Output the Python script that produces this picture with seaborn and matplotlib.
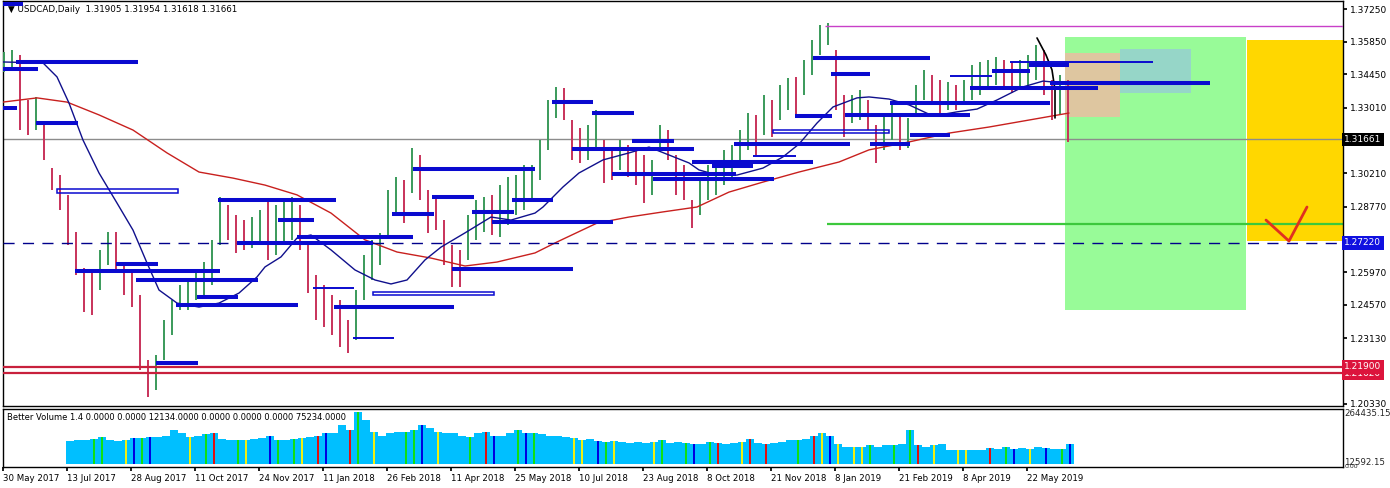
import numpy as np
import matplotlib
matplotlib.use("Agg")
import matplotlib.pyplot as plt
from matplotlib.patches import Rectangle
import seaborn as sns

# daily bars, one sampled bar every 4 trading days (high / low)
highs = [1.3541, 1.3549, 1.3528, 1.3335, 1.3348, 1.3236, 1.3043, 1.3013, 1.2928, 1.2769,
         1.2615, 1.2606, 1.2692, 1.2769, 1.2769, 1.2640, 1.2606, 1.2499, 1.2220, 1.2241,
         1.2391, 1.2477, 1.2542, 1.2554, 1.2606, 1.2640, 1.2735, 1.2919, 1.2885, 1.2842,
         1.2820, 1.2833, 1.2863, 1.2906, 1.2885, 1.2906, 1.2919, 1.2885, 1.2713, 1.2584,
         1.2542, 1.2499, 1.2477, 1.2391, 1.2520, 1.2670, 1.2735, 1.2765, 1.2949, 1.3005,
         1.2992, 1.3129, 1.3099, 1.2949, 1.2928, 1.2820, 1.2713, 1.2692, 1.2842, 1.2906,
         1.2919, 1.2928, 1.2970, 1.3005, 1.3013, 1.3056, 1.3056, 1.3163, 1.3335, 1.3391,
         1.3386, 1.3249, 1.3215, 1.3228, 1.3292, 1.3163, 1.3121, 1.3163, 1.3142, 1.3121,
         1.3099, 1.3078, 1.3228, 1.3206, 1.3099, 1.3056, 1.2906, 1.2992, 1.3056, 1.3078,
         1.3121, 1.3142, 1.3206, 1.3279, 1.3271, 1.3356, 1.3335, 1.3399, 1.3429, 1.3434,
         1.3507, 1.3592, 1.3657, 1.3665, 1.3549, 1.3356, 1.3356, 1.3378, 1.3335, 1.3228,
         1.3271, 1.3314, 1.3262, 1.3258, 1.3399, 1.3464, 1.3442, 1.3421, 1.3412, 1.3399,
         1.3421, 1.3485, 1.3498, 1.3507, 1.3519, 1.3507, 1.3498, 1.3507, 1.3528, 1.3571,
         1.3549, 1.3421, 1.3442, 1.3421]
lows = [1.3455, 1.3464, 1.3206, 1.3185, 1.3206, 1.3078, 1.2949, 1.2863, 1.2713, 1.2584,
        1.2426, 1.2413, 1.2520, 1.2627, 1.2606, 1.2499, 1.2447, 1.2177, 1.2061, 1.2091,
        1.2220, 1.2327, 1.2434, 1.2434, 1.2477, 1.2490, 1.2542, 1.2713, 1.2735, 1.2679,
        1.2692, 1.2700, 1.2713, 1.2649, 1.2670, 1.2713, 1.2735, 1.2692, 1.2507, 1.2391,
        1.2361, 1.2327, 1.2276, 1.2250, 1.2306, 1.2477, 1.2563, 1.2627, 1.2747, 1.2842,
        1.2807, 1.2936, 1.2906, 1.2765, 1.2777, 1.2627, 1.2533, 1.2533, 1.2649, 1.2735,
        1.2769, 1.2756, 1.2747, 1.2799, 1.2842, 1.2863, 1.2906, 1.2992, 1.3121, 1.3258,
        1.3249, 1.3078, 1.3065, 1.3078, 1.3121, 1.2979, 1.2992, 1.3035, 1.3005, 1.2970,
        1.2893, 1.2928, 1.3121, 1.3078, 1.2928, 1.2906, 1.2786, 1.2842, 1.2906, 1.2928,
        1.2970, 1.2992, 1.3056, 1.3121, 1.3099, 1.3185, 1.3176, 1.3249, 1.3292, 1.3271,
        1.3356, 1.3442, 1.3528, 1.3571, 1.3292, 1.3176, 1.3236, 1.3249, 1.3206, 1.3065,
        1.3121, 1.3163, 1.3121, 1.3129, 1.3271, 1.3335, 1.3314, 1.3279, 1.3292, 1.3292,
        1.3314, 1.3335, 1.3356, 1.3378, 1.3399, 1.3391, 1.3365, 1.3378, 1.3386, 1.3421,
        1.3356, 1.3249, 1.3271, 1.3155]

# moving averages (bar number, price)
ma_slow_bar = [0, 17, 32, 48, 65, 82, 98, 115, 131, 147, 164, 181, 197, 214, 231, 247,
               266, 277, 297, 313, 330, 347, 363, 380, 398, 418, 433, 453, 473, 493, 513, 533]
ma_slow = [1.3326, 1.3344, 1.3326, 1.3271, 1.3206, 1.3108, 1.3026, 1.3000, 1.2970, 1.2928,
           1.2850, 1.2735, 1.2683, 1.2657, 1.2623, 1.2640, 1.2679, 1.2726, 1.2807, 1.2833,
           1.2855, 1.2876, 1.2940, 1.2983, 1.3026, 1.3069, 1.3121, 1.3155, 1.3193, 1.3219,
           1.3249, 1.3279]
ma_fast_bar = [0, 20, 27, 33, 40, 48, 57, 65, 72, 78, 87, 98, 108, 118, 127, 131, 139, 147,
               154, 164, 176, 186, 194, 202, 211, 219, 231, 244, 254, 266, 270, 280, 288,
               300, 313, 323, 333, 343, 348, 357, 367, 380, 390, 398, 407, 415, 427, 433,
               443, 453, 465, 477, 487, 497, 510, 520, 525, 532]
ma_fast = [1.3498, 1.3494, 1.3434, 1.3322, 1.3163, 1.3022, 1.2893, 1.2777, 1.2636, 1.2520,
           1.2464, 1.2447, 1.2464, 1.2507, 1.2576, 1.2619, 1.2662, 1.2743, 1.2756, 1.2692,
           1.2606, 1.2563, 1.2546, 1.2563, 1.2649, 1.2704, 1.2765, 1.2833, 1.2820, 1.2850,
           1.2876, 1.2962, 1.3022, 1.3078, 1.3108, 1.3133, 1.3099, 1.3065, 1.3035, 1.3013,
           1.3013, 1.3043, 1.3091, 1.3146, 1.3236, 1.3305, 1.3344, 1.3348, 1.3339, 1.3314,
           1.3266, 1.3284, 1.3296, 1.3335, 1.3391, 1.3416, 1.3412, 1.3408]
trend_bar = [517, 521.5, 524.5, 526, 526]
trend = [1.3601, 1.3528, 1.3464, 1.3378, 1.3258]

# drawn support / resistance segments
thick_start = [0, 6.5, 0, 16.5, 36, 56.5, 66.5, 97, 86.5, 76.5, 107.5, 117, 147, 137.5,
               165.5, 205, 194.5, 214.5, 234.5, 244.5, 254.5, 224.5, 274.5, 294.5, 284.5,
               314.5, 304.5, 325, 344.5, 354.5, 365.5, 405, 414, 396, 421, 443.5, 453.5,
               433.5, 483.5, 494.5, 513, 523.5]
thick_end = [10, 67.5, 17.5, 37.5, 108.5, 77.5, 127.5, 117.5, 147.5, 97.5, 166.5, 185, 205,
             155.5, 225.5, 266, 215.5, 235.5, 255.5, 305, 275, 285, 295, 315.5, 345.5,
             335.5, 366.5, 385.5, 405, 375, 423.5, 463.5, 433.5, 414.5, 483.5, 523.5,
             473.5, 453.5, 547.5, 513.5, 533, 603.5]
thick_price = [1.3748, 1.3500, 1.3470, 1.3236, 1.2602, 1.2632, 1.2563, 1.2488, 1.2456,
               1.2205, 1.2908, 1.2720, 1.2747, 1.2822, 1.2449, 1.3039, 1.2848, 1.2919,
               1.2855, 1.2812, 1.2908, 1.2610, 1.3326, 1.3279, 1.3125, 1.3157, 1.3018,
               1.2994, 1.3067, 1.3054, 1.3146, 1.3515, 1.3446, 1.3266, 1.3271, 1.3322,
               1.3185, 1.3146, 1.3386, 1.3459, 1.3485, 1.3408]
thin_start = [155, 175, 375, 473.5, 503.5]
thin_end = [175.5, 195.5, 396.5, 494.5, 575]
thin_price = [1.2529, 1.2314, 1.3095, 1.3438, 1.3498]
box_start = [27, 185, 385]
box_end = [87.5, 245.5, 443]
box_top = [1.2953, 1.2512, 1.3206]
box_bot = [1.2936, 1.2499, 1.3193]
block_start, block_end, block_top, block_bot = 0, 7, 1.3311, 1.3291

# zones: green target, tan, teal, gold
zone_start = [531, 531, 558.5, 622]
zone_end = [621.5, 558.5, 594, 671]
zone_top = [1.3605, 1.3537, 1.3554, 1.3592]
zone_bot = [1.2434, 1.3262, 1.3365, 1.2730]
zone_colors = ["#98FB98", "#DEC6A0", "#96D6C8", "#FFD700"]

check_bar = [631.5, 643, 652]
check = [1.2820, 1.2730, 1.2876]

last_price = 1.31661
dash_level = 1.27220
red_levels = [1.21900, 1.21620]
magenta_level, magenta_from = 1.3652, 411
green_level, green_from = 1.2803, 412

price_ticks = [1.37250, 1.35850, 1.34450, 1.33010, 1.30210, 1.28770,
               1.25970, 1.24570, 1.23130, 1.20330]
date_labels = ["30 May 2017", "13 Jul 2017", "28 Aug 2017", "11 Oct 2017", "24 Nov 2017",
               "11 Jan 2018", "26 Feb 2018", "11 Apr 2018", "25 May 2018", "10 Jul 2018",
               "23 Aug 2018", "8 Oct 2018", "21 Nov 2018", "8 Jan 2019", "21 Feb 2019",
               "8 Apr 2019", "22 May 2019"]

# Better Volume (thousands), one sample every 4 bars starting at bar 33.5
volume = [111, 114, 116, 119, 129, 114, 111, 116, 127, 127, 129, 129, 137, 164, 148, 129,
          135, 143, 148, 121, 116, 114, 116, 121, 127, 137, 114, 116, 121, 127, 129, 137,
          148, 150, 187, 164, 248, 211, 156, 137, 148, 156, 156, 166, 187, 172, 156, 148,
          150, 137, 129, 148, 156, 137, 137, 148, 166, 150, 148, 143, 137, 135, 129, 127,
          116, 121, 111, 106, 111, 106, 100, 106, 100, 106, 114, 100, 106, 100, 95, 98,
          106, 100, 98, 100, 106, 121, 100, 98, 100, 106, 114, 116, 121, 137, 148, 137,
          98, 82, 84, 82, 90, 84, 90, 90, 98, 164, 90, 84, 90, 98, 69, 66, 69, 66, 69, 77,
          74, 82, 74, 77, 74, 82, 79, 74, 74, 95]
vol_green = [3, 4, 9, 17, 21, 26, 28, 36, 42, 43, 50, 56, 58, 67, 74, 77, 80, 91, 100,
             103, 105, 117, 124]
vol_red = [18, 31, 35, 52, 81, 85, 87, 93, 106, 115]
vol_blue = [8, 10, 25, 32, 44, 53, 57, 66, 78, 95, 118, 122, 125]
vol_yellow = [7, 15, 22, 29, 38, 46, 63, 64, 68, 73, 84, 94, 96, 98, 99, 108, 111, 112, 120]

sns.set_theme(style="white")
plt.rcParams["font.family"] = ["DejaVu Sans"]

W, H = 1390, 488
fig = plt.figure(figsize=(W / 100, H / 100), dpi=100)
ax = fig.add_axes([3 / W, (H - 406) / H, 1340 / W, 405 / H])
axv = fig.add_axes([3 / W, (H - 467) / H, 1340 / W, 58 / H])

BLUE = "#0A0ACF"

# zones
for x0, x1, t, b, c in zip(zone_start, zone_end, zone_top, zone_bot, zone_colors):
    ax.add_patch(Rectangle((x0, b), x1 - x0, t - b, color=c, lw=0, zorder=1))

# price bars
hi = np.array(highs)
lo = np.array(lows)
bx = np.arange(len(hi)) * 4 + 0.5
mid = (hi + lo) / 2
up = np.r_[True, mid[1:] >= mid[:-1]]
ax.vlines(bx[up], lo[up], hi[up], color="#3A9A5A", lw=1.4, zorder=3)
ax.vlines(bx[~up], lo[~up], hi[~up], color="#C8325A", lw=1.4, zorder=3)

# moving averages and trend line
sns.lineplot(x=ma_slow_bar, y=ma_slow, ax=ax, color="#C8201E", lw=1, zorder=4)
sns.lineplot(x=ma_fast_bar, y=ma_fast, ax=ax, color="#10108C", lw=1, zorder=4)
sns.lineplot(x=trend_bar, y=trend, ax=ax, color="black", lw=1.2, sort=False,
             estimator=None, zorder=4)

# horizontal levels
ax.axhline(last_price, color="#8C8C8C", lw=1, zorder=2)
ax.axhline(dash_level, color="#00008B", lw=1, ls=(0, (8, 6)), zorder=5)
for lv in red_levels:
    ax.axhline(lv, color="#C8203C", lw=1.6, zorder=5)
ax.hlines(magenta_level, magenta_from, 671, color="#C840C8", lw=1, zorder=5)
ax.hlines(green_level, green_from, 671, color="#3CC83C", lw=1.6, zorder=2)

ax.hlines(thick_price, thick_start, thick_end, color=BLUE, lw=2.9, zorder=6)
ax.hlines(thin_price, thin_start, thin_end, color=BLUE, lw=1.4, zorder=6)
ax.add_patch(Rectangle((block_start, block_bot), block_end - block_start,
                       block_top - block_bot, color=BLUE, lw=0, zorder=6))
for x0, x1, t, b in zip(box_start, box_end, box_top, box_bot):
    ax.add_patch(Rectangle((x0, b), x1 - x0, t - b, fill=False, ec=BLUE, lw=1.1, zorder=6))

ax.plot(check_bar, check, color="#E03020", lw=2, zorder=7)

ax.set_xlim(0, 670)
ax.set_ylim(1.20226, 1.37595)
ax.set_xticks([])
ax.yaxis.tick_right()
ax.set_yticks(price_ticks)
ax.set_yticklabels([f"{p:.5f}" for p in price_ticks])
ax.tick_params(axis="y", labelsize=6.5, length=3, pad=2, right=True, direction="out",
               colors="black")
for s in ax.spines.values():
    s.set_color("black")
    s.set_linewidth(1)

# price boxes on the scale
tr = ax.get_yaxis_transform()
boxes = [(last_price, "1.31661", "black"), (dash_level, "1.27220", "#1010E0"),
         (red_levels[1], "1.21620", "#DC143C"), (red_levels[0], "1.21900", "#DC143C")]
for p, txt, c in boxes:
    ax.text(1.001, p, txt, transform=tr, ha="left", va="center", fontsize=6.5,
            color="white", zorder=10, clip_on=False,
            bbox=dict(boxstyle="square,pad=0.25", fc=c, ec="none"))

ax.text(0.004, 0.978, "\u25bc USDCAD,Daily  1.31905 1.31954 1.31618 1.31661",
        transform=ax.transAxes, ha="left", va="center", fontsize=6.3, color="black")

# volume panel
vx = np.arange(len(volume)) * 4 + 33.5
vol = np.array(volume) * 1000.0
axv.bar(vx, vol, width=4, color="#00BFFF", lw=0)
for idx, c in [(vol_green, "#10E010"), (vol_red, "#E01010"), (vol_blue, "#0000E0"),
               (vol_yellow, "#F0F010")]:
    axv.bar(vx[idx], vol[idx], width=1.2, color=c, lw=0)
axv.set_xlim(0, 670)
axv.set_ylim(-14000, 264435)
axv.set_yticks([])
axv.set_xticks(np.arange(len(date_labels)) * 32)
axv.set_xticklabels(date_labels, ha="left", fontsize=6.2)
axv.tick_params(axis="x", length=3, pad=2, bottom=True, direction="out", colors="black")
for s in axv.spines.values():
    s.set_color("black")
    s.set_linewidth(1)
axv.text(0.003, 0.86, "Better Volume 1.4 0.0000 0.0000 12134.0000 0.0000 0.0000 0.0000 75234.0000",
         transform=axv.transAxes, ha="left", va="center", fontsize=6, color="black")
axv.text(1.001, 0.93, "264435.15", transform=axv.transAxes, ha="left", va="center",
         fontsize=6.2)
axv.text(1.001, 0.08, "12592.15", transform=axv.transAxes, ha="left", va="center",
         fontsize=6.2)
axv.text(1.001, 0.0, "0.00", transform=axv.transAxes, ha="left", va="center", fontsize=4.5)

fig.savefig("out.png", dpi=100, facecolor="white")
